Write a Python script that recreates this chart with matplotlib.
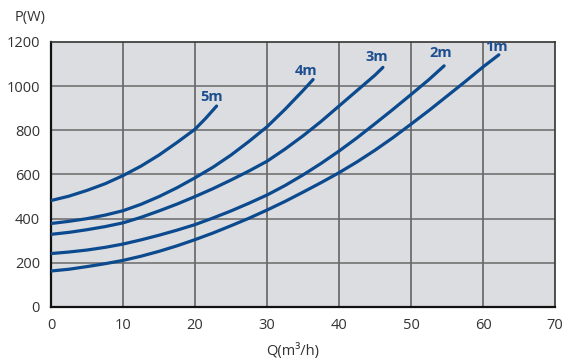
import matplotlib
matplotlib.use('Agg')
import matplotlib.pyplot as plt

# power curves, one per head
q_1m = [0, 2.5, 5, 7.5, 10, 12.5, 15, 17.5, 20, 22.5, 25, 27.5, 30, 32.5, 35, 37.5,
        40, 42.5, 45, 47.5, 50, 52.5, 55, 57.5, 60, 62.2]
p_1m = [163, 171, 183, 196, 211, 230, 252, 277, 305, 335, 368, 402, 439, 478, 520, 563,
        608, 657, 710, 767, 828, 890, 955, 1020, 1087, 1142]
q_2m = [0, 2.5, 5, 7.5, 10, 12.5, 15, 17.5, 20, 22.5, 25, 27.5, 30, 32.5, 35, 37.5,
        40, 42.5, 45, 47.5, 50, 52.5, 54.6]
p_2m = [242, 249, 258, 270, 285, 304, 325, 348, 373, 403, 435, 470, 507, 550, 598, 650,
        706, 766, 830, 895, 962, 1030, 1092]
q_3m = [0, 2.5, 5, 7.5, 10, 12.5, 15, 17.5, 20, 22.5, 25, 27.5, 30, 32.5, 35, 37.5,
        40, 42.5, 45, 46.1]
p_3m = [329, 338, 350, 364, 381, 406, 435, 466, 500, 536, 575, 616, 660, 715, 775, 840,
        910, 980, 1050, 1085]
q_4m = [0, 2.5, 5, 7.5, 10, 12.5, 15, 17.5, 20, 22.5, 25, 27.5, 30, 32.5, 35, 36.4]
p_4m = [378, 388, 400, 416, 436, 465, 500, 540, 585, 633, 688, 750, 816, 895, 980, 1030]
q_5m = [0, 2.5, 5, 7.5, 10, 12.5, 15, 17.5, 20, 21.5, 23]
p_5m = [482, 502, 528, 558, 595, 638, 688, 745, 805, 855, 910]

labels = ['1m', '2m', '3m', '4m', '5m']
label_pos = [(61.8, 1177), (54.1, 1149), (45.3, 1131), (35.4, 1068), (22.3, 950)]

x_ticks = [0, 10, 20, 30, 40, 50, 60, 70]
y_ticks = [0, 200, 400, 600, 800, 1000, 1200]

blue = '#0b4a8e'
plt.rcParams['font.family'] = ['Open Sans', 'DejaVu Sans']

fig = plt.figure(figsize=(5.63, 3.6), dpi=100)
ax = fig.add_axes([51/563, 53/360, 504/563, 265/360])
ax.set_facecolor('#dcdde0')

for v in x_ticks[1:-1]:
    ax.axvline(v, color='#5a5a5a', lw=1.1, zorder=1)
for v in y_ticks[1:-1]:
    ax.axhline(v, color='#6a6a6a', lw=1.1, zorder=1)

series = [(q_1m, p_1m), (q_2m, p_2m), (q_3m, p_3m), (q_4m, p_4m), (q_5m, p_5m)]
for (q, p), lab, pos in zip(series, labels, label_pos):
    ax.plot(q, p, color=blue, lw=2.3, solid_capstyle='round', solid_joinstyle='round', zorder=3)
    ax.text(pos[0], pos[1], lab, color='#1d4f8f', fontsize=10.5, fontweight='bold',
            ha='center', va='center', zorder=4)

ax.set_xlim(0, 70)
ax.set_ylim(0, 1200)
ax.set_xticks(x_ticks)
ax.set_yticks(y_ticks)
ax.tick_params(length=0, labelsize=10.5, colors='#333333', pad=8)
for s in ['left', 'bottom']:
    ax.spines[s].set_linewidth(1.6)
    ax.spines[s].set_color('#111111')
for s in ['top', 'right']:
    ax.spines[s].set_linewidth(1.2)
    ax.spines[s].set_color('#333333')

fig.text(30/563, 1 - 17/360, 'P(W)', fontsize=10.5, color='#333333', ha='center', va='center')
fig.text(293/563, 1 - 351/360, 'Q(m³/h)', fontsize=10.5, color='#333333', ha='center', va='center')

fig.savefig('out.png', dpi=100)
